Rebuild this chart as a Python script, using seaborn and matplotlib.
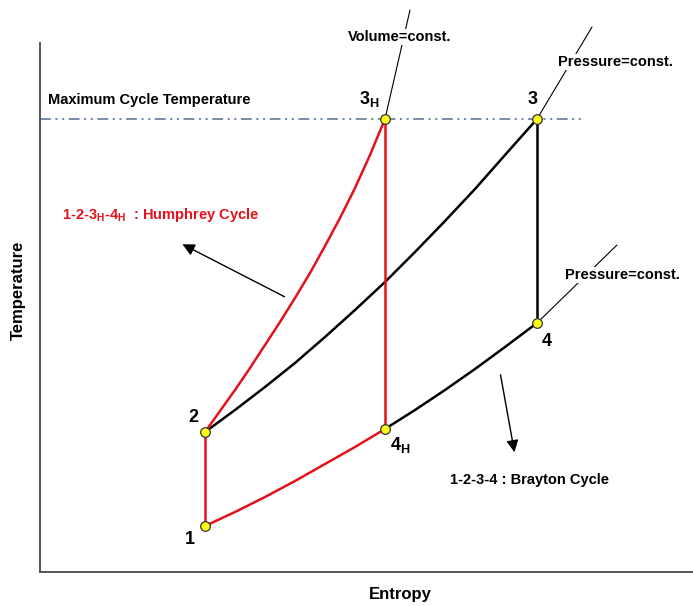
import matplotlib
matplotlib.use("Agg")
import matplotlib.pyplot as plt
import pandas as pd
import seaborn as sns

# T-s diagram, arbitrary units (entropy s, temperature T)
STATE_NAMES = ["1", "2", "3$_\\mathbf{H}$", "3", "4", "4$_\\mathbf{H}$"]
STATE_S = [165, 165, 345, 497, 497, 345]
STATE_T = [46, 140, 453, 453, 249, 143]

# constant-volume heat addition 2 -> 3H (Humphrey)
V_S = [165, 180, 195, 210, 225, 240, 255, 270, 285, 300, 315, 330, 345]
V_T = [140, 161, 182, 204, 227, 250, 274, 299, 326, 354, 384, 417, 453]
# constant-pressure heat addition 2 -> 3 (Brayton)
P_HI_S = [165, 195, 225, 255, 285, 315, 345, 375, 405, 435, 465, 497]
P_HI_T = [140, 162, 185, 209, 235, 262, 290, 320, 351, 383, 417, 453]
# constant-pressure heat rejection 4H -> 1 (Humphrey) and 4 -> 4H (Brayton)
P_LO_RED_S = [165, 195, 225, 255, 285, 315, 345]
P_LO_RED_T = [46, 60, 75, 91, 108, 125, 143]
P_LO_BLK_S = [345, 375, 405, 435, 465, 497]
P_LO_BLK_T = [143, 162, 182, 203, 225, 249]

T_MAX = 453
RED = "#e3121b"

sns.set_theme(style="white")
plt.rcParams["font.family"] = ["Liberation Sans", "DejaVu Sans"]
plt.rcParams["font.weight"] = "bold"
plt.rcParams["text.color"] = "black"
plt.rcParams["mathtext.fontset"] = "custom"
plt.rcParams["mathtext.bf"] = "Liberation Sans:bold"
plt.rcParams["mathtext.rm"] = "Liberation Sans:bold"

fig = plt.figure(figsize=(6.93, 6.06), dpi=100)
ax = fig.add_axes([40 / 693, 34 / 606, 653 / 693, 529 / 606])
ax.set_xlim(0, 653)
ax.set_ylim(0, 529)

# maximum cycle temperature
ax.plot([0, 542], [T_MAX, T_MAX], color="#6f82a3", lw=1.3,
        dashes=[6, 2.5, 1.2, 2.5, 1.2, 2.5], zorder=1)

def curve(s, t, color, z):
    sns.lineplot(x=s, y=t, sort=False, estimator=None, color=color, lw=1.8, ax=ax,
                 zorder=z, solid_joinstyle="round", solid_capstyle="round")

# Brayton (black)
curve(P_HI_S, P_HI_T, "black", 3)
curve(P_LO_BLK_S, P_LO_BLK_T, "black", 3)
curve([STATE_S[3], STATE_S[4]], [STATE_T[3], STATE_T[4]], "black", 3)
# Humphrey (red)
curve(V_S, V_T, RED, 3.5)
curve(P_LO_RED_S, P_LO_RED_T, RED, 3.5)
curve([STATE_S[0], STATE_S[1]], [STATE_T[0], STATE_T[1]], RED, 3.5)
curve([STATE_S[2], STATE_S[5]], [STATE_T[2], STATE_T[5]], RED, 3.5)

# thin construction lines
for (s0, t0), (s1, t1) in [((345, 453), (370, 562)), ((497, 453), (552, 545)), ((497, 249), (577, 327))]:
    ax.plot([s0, s1], [t0, t1], color="black", lw=0.8, zorder=2, clip_on=False)

states = pd.DataFrame({"s": STATE_S, "T": STATE_T})
sns.scatterplot(data=states, x="s", y="T", s=48, color="#ffff1a", edgecolor="#333333",
                linewidth=0.9, zorder=5, ax=ax, clip_on=False)

label_pos = [(150, 32), (153, 154), (329, 473), (493, 473), (507, 231), (360, 127)]
for name, (x, y) in zip(STATE_NAMES, label_pos):
    ax.text(x, y, name, fontsize=13, fontweight="bold", ha="center", va="center")

box = dict(facecolor="white", edgecolor="none", pad=1)
ax.text(360, 535, "Volume=const.", fontsize=10.5, ha="center", va="center", bbox=box, zorder=4, clip_on=False)
ax.text(575, 510, "Pressure=const.", fontsize=10.5, ha="center", va="center", bbox=box, zorder=4)
ax.text(582, 297, "Pressure=const.", fontsize=10.5, ha="center", va="center", bbox=box, zorder=4)

ax.text(8, 472, "Maximum Cycle Temperature", fontsize=10.5, ha="left", va="center")
ax.text(22, 357, "1-2-3$_\\mathbf{H}$-4$_\\mathbf{H}$  : Humphrey Cycle", fontsize=10.5,
        color=RED, ha="left", va="center")
ax.text(410, 92, "1-2-3-4 : Brayton Cycle", fontsize=10.5, ha="left", va="center")

arrow = dict(arrowstyle="-|>", color="black", lw=1.0, mutation_scale=18)
ax.annotate("", xy=(140, 329), xytext=(247, 274), arrowprops=arrow)
ax.annotate("", xy=(475, 117), xytext=(460, 200), arrowprops=arrow)

ax.set_xticks([])
ax.set_yticks([])
ax.set_xlabel("")
ax.set_ylabel("")
for side in ("top", "right"):
    ax.spines[side].set_visible(False)
for side in ("left", "bottom"):
    ax.spines[side].set_color("#555555")
    ax.spines[side].set_linewidth(1.4)

fig.text(18 / 693, 1 - 290 / 606, "Temperature", rotation=90, fontsize=12,
         fontweight="bold", ha="center", va="center")
fig.text(400 / 693, 1 - 595 / 606, "Entropy", fontsize=12, fontweight="bold",
         ha="center", va="center")

fig.savefig("out.png", dpi=100)
